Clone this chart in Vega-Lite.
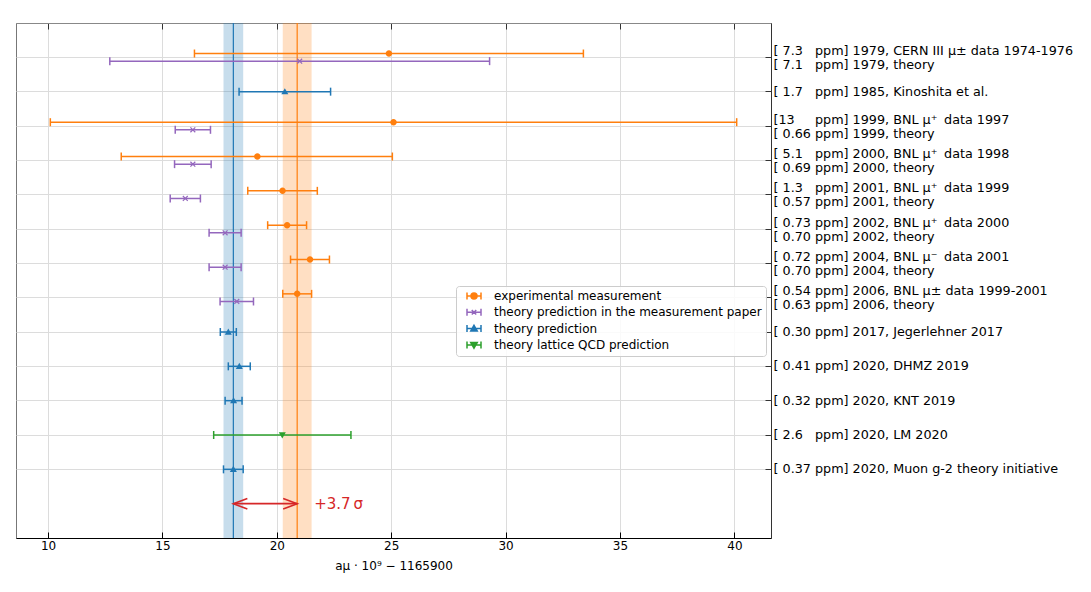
{
  "$schema": "https://vega.github.io/schema/vega-lite/v6.json",
  "width": 755,
  "height": 515,
  "padding": {"left": 16, "top": 22, "right": 5, "bottom": 5},
  "background": "white",
  "config": {
    "font": "DejaVu Sans",
    "view": {"stroke": "#777777", "strokeWidth": 1},
    "axis": {"labelFont": "DejaVu Sans", "titleFont": "DejaVu Sans"},
    "legend": {
      "orient": "none", "legendX": 440, "legendY": 263,
      "padding": 4, "fillColor": "rgba(255,255,255,0.85)", "strokeColor": "#cccccc", "cornerRadius": 3,
      "labelFont": "DejaVu Sans", "labelFontSize": 12, "labelColor": "black", "labelLimit": 400,
      "symbolSize": 100, "symbolOffset": 8, "labelOffset": 14, "rowPadding": 2.3,
      "symbolStrokeWidth": 1.5, "symbolOpacity": 1
    }
  },
  "datasets": {
    "meas": [
      {"g": 0, "row": "[\u00a07.3\u2007\u00a0ppm] 1979, CERN III μ± data 1974-1976|[\u00a07.1\u2007\u00a0ppm] 1979, theory", "slot": "top", "kind": "experimental measurement", "v": 24.9, "lo": 16.4, "hi": 33.4},
      {"g": 0, "row": "[\u00a07.3\u2007\u00a0ppm] 1979, CERN III μ± data 1974-1976|[\u00a07.1\u2007\u00a0ppm] 1979, theory", "slot": "bot", "kind": "theory prediction in the measurement paper", "v": 21.0, "lo": 12.7, "hi": 29.3},
      {"g": 1, "row": "[\u00a01.7\u2007\u00a0ppm] 1985, Kinoshita et al.", "slot": "mid", "kind": "theory prediction", "v": 20.35, "lo": 18.35, "hi": 22.35},
      {"g": 2, "row": "[13\u00a0\u2008\u2007\u00a0ppm] 1999, BNL μ⁺\u2009 data 1997|[\u00a00.66\u00a0ppm] 1999, theory", "slot": "top", "kind": "experimental measurement", "v": 25.1, "lo": 10.1, "hi": 40.1},
      {"g": 2, "row": "[13\u00a0\u2008\u2007\u00a0ppm] 1999, BNL μ⁺\u2009 data 1997|[\u00a00.66\u00a0ppm] 1999, theory", "slot": "bot", "kind": "theory prediction in the measurement paper", "v": 16.33, "lo": 15.56, "hi": 17.1},
      {"g": 3, "row": "[\u00a05.1\u2007\u00a0ppm] 2000, BNL μ⁺\u2009 data 1998|[\u00a00.69\u00a0ppm] 2000, theory", "slot": "top", "kind": "experimental measurement", "v": 19.15, "lo": 13.2, "hi": 25.05},
      {"g": 3, "row": "[\u00a05.1\u2007\u00a0ppm] 2000, BNL μ⁺\u2009 data 1998|[\u00a00.69\u00a0ppm] 2000, theory", "slot": "bot", "kind": "theory prediction in the measurement paper", "v": 16.33, "lo": 15.53, "hi": 17.13},
      {"g": 4, "row": "[\u00a01.3\u2007\u00a0ppm] 2001, BNL μ⁺\u2009 data 1999|[\u00a00.57\u00a0ppm] 2001, theory", "slot": "top", "kind": "experimental measurement", "v": 20.25, "lo": 18.73, "hi": 21.77},
      {"g": 4, "row": "[\u00a01.3\u2007\u00a0ppm] 2001, BNL μ⁺\u2009 data 1999|[\u00a00.57\u00a0ppm] 2001, theory", "slot": "bot", "kind": "theory prediction in the measurement paper", "v": 16.0, "lo": 15.34, "hi": 16.66},
      {"g": 5, "row": "[\u00a00.73\u00a0ppm] 2002, BNL μ⁺\u2009 data 2000|[\u00a00.70\u00a0ppm] 2002, theory", "slot": "top", "kind": "experimental measurement", "v": 20.45, "lo": 19.6, "hi": 21.3},
      {"g": 5, "row": "[\u00a00.73\u00a0ppm] 2002, BNL μ⁺\u2009 data 2000|[\u00a00.70\u00a0ppm] 2002, theory", "slot": "bot", "kind": "theory prediction in the measurement paper", "v": 17.74, "lo": 17.04, "hi": 18.44},
      {"g": 6, "row": "[\u00a00.72\u00a0ppm] 2004, BNL μ⁻\u2009 data 2001|[\u00a00.70\u00a0ppm] 2004, theory", "slot": "top", "kind": "experimental measurement", "v": 21.45, "lo": 20.6, "hi": 22.3},
      {"g": 6, "row": "[\u00a00.72\u00a0ppm] 2004, BNL μ⁻\u2009 data 2001|[\u00a00.70\u00a0ppm] 2004, theory", "slot": "bot", "kind": "theory prediction in the measurement paper", "v": 17.74, "lo": 17.04, "hi": 18.44},
      {"g": 7, "row": "[\u00a00.54\u00a0ppm] 2006, BNL μ± data 1999-2001|[\u00a00.63\u00a0ppm] 2006, theory", "slot": "top", "kind": "experimental measurement", "v": 20.89, "lo": 20.26, "hi": 21.52},
      {"g": 7, "row": "[\u00a00.54\u00a0ppm] 2006, BNL μ± data 1999-2001|[\u00a00.63\u00a0ppm] 2006, theory", "slot": "bot", "kind": "theory prediction in the measurement paper", "v": 18.25, "lo": 17.52, "hi": 18.98},
      {"g": 8, "row": "[\u00a00.30\u00a0ppm] 2017, Jegerlehner 2017", "slot": "mid", "kind": "theory prediction", "v": 17.88, "lo": 17.53, "hi": 18.23},
      {"g": 9, "row": "[\u00a00.41\u00a0ppm] 2020, DHMZ 2019", "slot": "mid", "kind": "theory prediction", "v": 18.36, "lo": 17.88, "hi": 18.84},
      {"g": 10, "row": "[\u00a00.32\u00a0ppm] 2020, KNT 2019", "slot": "mid", "kind": "theory prediction", "v": 18.11, "lo": 17.74, "hi": 18.48},
      {"g": 11, "row": "[\u00a02.6\u2007\u00a0ppm] 2020, LM 2020", "slot": "mid", "kind": "theory lattice QCD prediction", "v": 20.24, "lo": 17.24, "hi": 23.24},
      {"g": 12, "row": "[\u00a00.37\u00a0ppm] 2020, Muon g-2 theory initiative", "slot": "mid", "kind": "theory prediction", "v": 18.1, "lo": 17.67, "hi": 18.53}
    ],
    "bands": [
      {"kind": "theory prediction", "v": 18.1, "lo": 17.67, "hi": 18.53},
      {"kind": "experimental measurement", "v": 20.89, "lo": 20.26, "hi": 21.52}
    ],
    "arrow": [
      {"g": 13, "row": "arrow", "from": 18.1, "to": 20.89, "text": "+3.7\u2009σ"}
    ]
  },
  "resolve": {"axis": {"x": "independent"}},
  "layer": [
    {
      "data": {"name": "bands"},
      "mark": {"type": "rect", "opacity": 0.25},
      "encoding": {
        "x": {
          "field": "lo", "type": "quantitative",
          "scale": {"domain": [8.6, 41.6], "nice": false, "zero": false},
          "axis": {
            "orient": "bottom", "values": [10, 15, 20, 25, 30, 35, 40],
            "title": "aμ · 10⁹ − 1165900", "titleFontSize": 12, "titleFontWeight": "normal",
            "titleColor": "black", "titlePadding": 9,
            "labelFontSize": 12, "labelColor": "black", "labelPadding": 8, "labelFlush": false,
            "tickSize": -6, "tickColor": "black", "domainColor": "black",
            "grid": true, "gridColor": "#dcdcdc"
          }
        },
        "x2": {"field": "hi"},
        "color": {"condition": {"test": "datum.kind === 'theory prediction'", "value": "#1f77b4"}, "value": "#ff7f0e"}
      }
    },
    {
      "data": {"name": "bands"},
      "mark": {"type": "rule", "strokeWidth": 1.2},
      "encoding": {
        "x": {
          "field": "v", "type": "quantitative",
          "axis": {
            "orient": "top", "values": [10, 15, 20, 25, 30, 35, 40],
            "labels": false, "title": null, "tickSize": -6, "tickColor": "#333333",
            "domainColor": "#888888", "grid": false
          }
        },
        "color": {"condition": {"test": "datum.kind === 'theory prediction'", "value": "#1f77b4"}, "value": "#ff7f0e"}
      }
    },
    {
      "data": {"name": "meas"},
      "mark": {"type": "rule", "strokeWidth": 1.5},
      "encoding": {
        "x": {"field": "lo", "type": "quantitative", "axis": null},
        "x2": {"field": "hi"},
        "y": {
          "field": "row", "type": "nominal", "sort": {"field": "g", "op": "min"},
          "scale": {"paddingInner": 0, "paddingOuter": 0.5, "align": 0.5},
          "axis": {
            "orient": "right", "title": null, "grid": true,
            "gridColor": {"condition": {"test": "datum.value === 'arrow'", "value": "rgba(0,0,0,0)"}, "value": "#dcdcdc"},
            "tickColor": {"condition": {"test": "datum.value === 'arrow'", "value": "rgba(0,0,0,0)"}, "value": "#333333"},
            "tickSize": -6, "labelPadding": 8,
            "labelOffset": {"condition": {"test": "indexof(datum.value, '|') >= 0", "value": -6.5}, "value": 0},
            "labelExpr": "datum.value === 'arrow' ? '' : split(datum.value, '|')",
            "labelFontSize": 12.75, "labelColor": "black", "labelLineHeight": 14, "labelLimit": 400,
            "domainColor": "#333333"
          }
        },
        "yOffset": {"field": "slot", "type": "nominal", "scale": {"domain": ["s0", "s1", "s2", "top", "mid", "bot", "s6", "s7", "s8"], "paddingInner": 0, "paddingOuter": 0}},
        "color": {
          "field": "kind", "type": "nominal",
          "scale": {
            "domain": ["experimental measurement", "theory prediction in the measurement paper", "theory prediction", "theory lattice QCD prediction"],
            "range": ["#ff7f0e", "#9467bd", "#1f77b4", "#2ca02c"]
          },
          "legend": {"title": null}
        }
      }
    },
    {
      "data": {"name": "meas"},
      "mark": {"type": "point", "shape": "M0,-1L0,1", "size": 64, "strokeWidth": 1.5, "filled": false, "opacity": 1},
      "encoding": {
        "x": {"field": "lo", "type": "quantitative", "axis": null},
        "y": {"field": "row", "type": "nominal", "sort": {"field": "g", "op": "min"}},
        "yOffset": {"field": "slot", "type": "nominal"},
        "color": {"field": "kind", "type": "nominal"}
      }
    },
    {
      "data": {"name": "meas"},
      "mark": {"type": "point", "shape": "M0,-1L0,1", "size": 64, "strokeWidth": 1.5, "filled": false, "opacity": 1},
      "encoding": {
        "x": {"field": "hi", "type": "quantitative", "axis": null},
        "y": {"field": "row", "type": "nominal", "sort": {"field": "g", "op": "min"}},
        "yOffset": {"field": "slot", "type": "nominal"},
        "color": {"field": "kind", "type": "nominal"}
      }
    },
    {
      "data": {"name": "meas"},
      "transform": [{"filter": {"field": "kind", "equal": "experimental measurement"}}],
      "mark": {"type": "point", "shape": "M0.6,0A0.6,0.6,0,1,1,-0.6,0A0.6,0.6,0,1,1,0.6,0Z", "filled": true, "size": 117, "opacity": 1},
      "encoding": {
        "x": {"field": "v", "type": "quantitative", "axis": null},
        "y": {"field": "row", "type": "nominal", "sort": {"field": "g", "op": "min"}},
        "yOffset": {"field": "slot", "type": "nominal"},
        "color": {"field": "kind", "type": "nominal"}
      }
    },
    {
      "data": {"name": "meas"},
      "transform": [{"filter": {"field": "kind", "equal": "theory prediction in the measurement paper"}}],
      "mark": {"type": "point", "shape": "M-0.45,-0.45L0.45,0.45M-0.45,0.45L0.45,-0.45", "filled": false, "strokeWidth": 1.2, "size": 117, "opacity": 1},
      "encoding": {
        "x": {"field": "v", "type": "quantitative", "axis": null},
        "y": {"field": "row", "type": "nominal", "sort": {"field": "g", "op": "min"}},
        "yOffset": {"field": "slot", "type": "nominal"},
        "color": {"field": "kind", "type": "nominal"}
      }
    },
    {
      "data": {"name": "meas"},
      "transform": [{"filter": {"field": "kind", "equal": "theory prediction"}}],
      "mark": {"type": "point", "shape": "M0,-0.65L0.65,0.5L-0.65,0.5Z", "filled": true, "size": 117, "opacity": 1},
      "encoding": {
        "x": {"field": "v", "type": "quantitative", "axis": null},
        "y": {"field": "row", "type": "nominal", "sort": {"field": "g", "op": "min"}},
        "yOffset": {"field": "slot", "type": "nominal"},
        "color": {"field": "kind", "type": "nominal"}
      }
    },
    {
      "data": {"name": "meas"},
      "transform": [{"filter": {"field": "kind", "equal": "theory lattice QCD prediction"}}],
      "mark": {"type": "point", "shape": "M0,0.65L0.65,-0.5L-0.65,-0.5Z", "filled": true, "size": 117, "opacity": 1},
      "encoding": {
        "x": {"field": "v", "type": "quantitative", "axis": null},
        "y": {"field": "row", "type": "nominal", "sort": {"field": "g", "op": "min"}},
        "yOffset": {"field": "slot", "type": "nominal"},
        "color": {"field": "kind", "type": "nominal"}
      }
    },
    {
      "data": {"name": "meas"},
      "mark": {"type": "point", "filled": false, "strokeWidth": 1.5, "size": 100, "opacity": 0},
      "encoding": {
        "x": {"field": "v", "type": "quantitative", "axis": null},
        "y": {"field": "row", "type": "nominal", "sort": {"field": "g", "op": "min"}},
        "yOffset": {"field": "slot", "type": "nominal"},
        "color": {"field": "kind", "type": "nominal"},
        "shape": {
          "field": "kind", "type": "nominal",
          "scale": {
            "domain": ["experimental measurement", "theory prediction in the measurement paper", "theory prediction", "theory lattice QCD prediction"],
            "range": [
              "M-1.4,0L1.4,0M-1.4,-0.7L-1.4,0.7M1.4,-0.7L1.4,0.7M0.6,0A0.6,0.6,0,1,1,-0.6,0A0.6,0.6,0,1,1,0.6,0ZM0.3,0A0.3,0.3,0,1,1,-0.3,0A0.3,0.3,0,1,1,0.3,0Z",
              "M-1.4,0L1.4,0M-1.4,-0.7L-1.4,0.7M1.4,-0.7L1.4,0.7M-0.45,-0.45L0.45,0.45M-0.45,0.45L0.45,-0.45",
              "M-1.4,0L1.4,0M-1.4,-0.7L-1.4,0.7M1.4,-0.7L1.4,0.7M0,-0.65L0.65,0.5L-0.65,0.5ZM0,-0.25L0.25,0.2L-0.25,0.2Z",
              "M-1.4,0L1.4,0M-1.4,-0.7L-1.4,0.7M1.4,-0.7L1.4,0.7M0,0.65L0.65,-0.5L-0.65,-0.5ZM0,0.25L0.25,-0.2L-0.25,-0.2Z"
            ]
          },
          "legend": {"title": null}
        }
      }
    },
    {
      "data": {"name": "arrow"},
      "mark": {"type": "rule", "color": "#d62728", "strokeWidth": 1.6},
      "encoding": {
        "x": {"field": "from", "type": "quantitative", "axis": null},
        "x2": {"field": "to"},
        "y": {"field": "row", "type": "nominal", "sort": {"field": "g", "op": "min"}}
      }
    },
    {
      "data": {"name": "arrow"},
      "mark": {"type": "point", "shape": "M2,-0.75L0,0L2,0.75", "size": 196, "filled": false, "stroke": "#d62728", "strokeWidth": 1.6, "opacity": 1},
      "encoding": {
        "x": {"field": "from", "type": "quantitative", "axis": null},
        "y": {"field": "row", "type": "nominal", "sort": {"field": "g", "op": "min"}}
      }
    },
    {
      "data": {"name": "arrow"},
      "mark": {"type": "point", "shape": "M-2,-0.75L0,0L-2,0.75", "size": 196, "filled": false, "stroke": "#d62728", "strokeWidth": 1.6, "opacity": 1},
      "encoding": {
        "x": {"field": "to", "type": "quantitative", "axis": null},
        "y": {"field": "row", "type": "nominal", "sort": {"field": "g", "op": "min"}}
      }
    },
    {
      "data": {"name": "arrow"},
      "mark": {"type": "text", "align": "left", "baseline": "middle", "dx": 17, "fontSize": 15, "color": "#d62728"},
      "encoding": {
        "x": {"field": "to", "type": "quantitative", "axis": null},
        "y": {"field": "row", "type": "nominal", "sort": {"field": "g", "op": "min"}},
        "text": {"field": "text"}
      }
    }
  ]
}
